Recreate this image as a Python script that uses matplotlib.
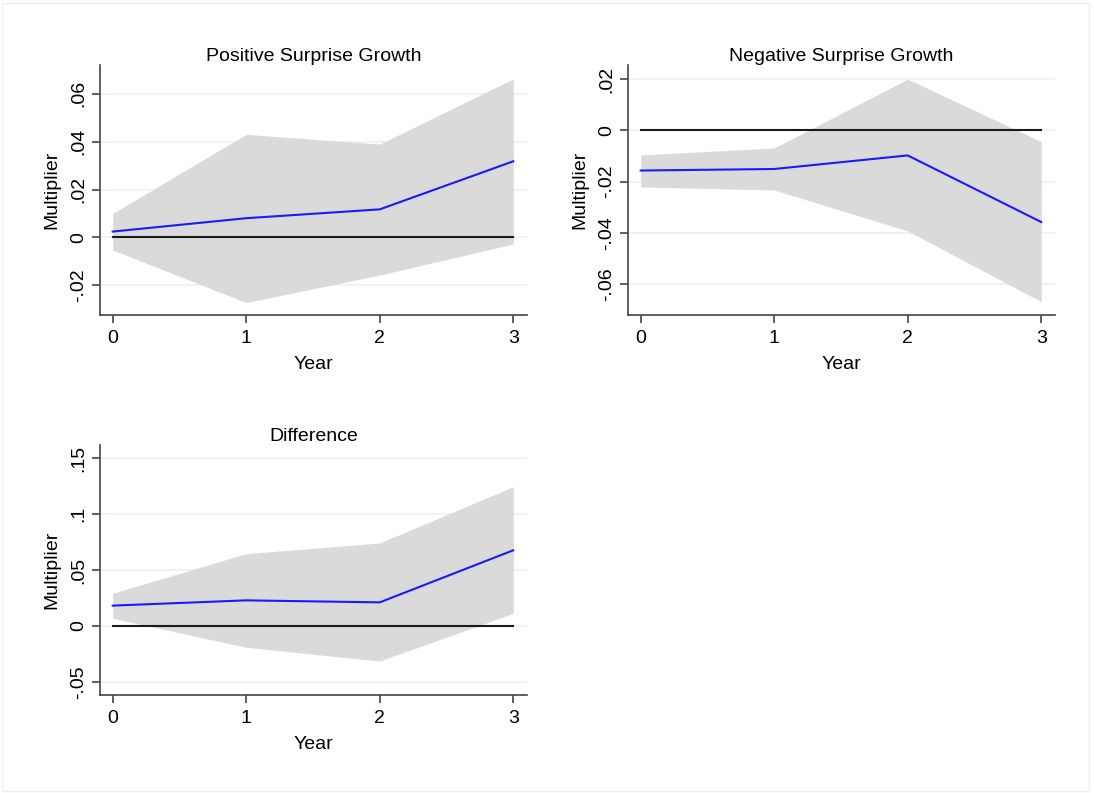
import numpy as np
import matplotlib.pyplot as plt
from matplotlib.patches import Rectangle

plt.rcParams['font.family'] = ['Liberation Sans', 'DejaVu Sans']

# years after the surprise
years = [0, 1, 2, 3]

# Positive surprise growth
pos_coef = [0.0024, 0.0080, 0.0117, 0.0318]
pos_hi = [0.0100, 0.0431, 0.0390, 0.0663]
pos_lo = [-0.0053, -0.0273, -0.0158, -0.0028]

# Negative surprise growth
neg_coef = [-0.0157, -0.0151, -0.0098, -0.0358]
neg_hi = [-0.0096, -0.0069, 0.0200, -0.0044]
neg_lo = [-0.0221, -0.0233, -0.0393, -0.0669]

# Difference
dif_coef = [0.0182, 0.0229, 0.0211, 0.0676]
dif_hi = [0.0292, 0.0646, 0.0741, 0.1244]
dif_lo = [0.0068, -0.0190, -0.0313, 0.0113]

pos_ticks = [-0.02, 0, 0.02, 0.04, 0.06]
pos_labels = ['-.02', '0', '.02', '.04', '.06']
neg_ticks = [-0.06, -0.04, -0.02, 0, 0.02]
neg_labels = ['-.06', '-.04', '-.02', '0', '.02']
dif_ticks = [-0.05, 0, 0.05, 0.1, 0.15]
dif_labels = ['-.05', '0', '.05', '.1', '.15']

W, H = 1094, 793
fig = plt.figure(figsize=(W / 100, H / 100), dpi=100)
fig.patches.append(Rectangle((2 / W, 2 / H), 1087 / W, 788 / H, transform=fig.transFigure,
                             fill=False, edgecolor='#efefef', linewidth=1))


def panel(left, top, title, coef, hi, lo, ticks, labels, ylim):
    ax = fig.add_axes([left / W, 1 - (top + 250) / H, 427 / W, 250 / H])
    ax.fill_between(years, lo, hi, color='#dadada', linewidth=0, zorder=1)
    ax.plot(years, [0] * len(years), color='#1a1a1a', linewidth=1.5, zorder=2)
    ax.plot(years, coef, color='#1a1aff', linewidth=1.5, zorder=3)
    ax.set_xlim(-0.095, 3.103)
    ax.set_ylim(*ylim)
    ax.set_xticks(years)
    ax.set_yticks(ticks)
    ax.set_yticklabels(labels, rotation=90, va='center')
    ax.grid(axis='y', color='#eaf2f3', linewidth=1.2, zorder=0)
    ax.set_axisbelow(True)
    for s in ['top', 'right']:
        ax.spines[s].set_visible(False)
    for s in ['left', 'bottom']:
        ax.spines[s].set_color('#444444')
        ax.spines[s].set_linewidth(1.2)
    ax.tick_params(direction='out', length=6, width=1.2, color='#444444',
                   labelsize=14, pad=3)
    ax.tick_params(axis='x', pad=5)
    ax.set_title(title, fontsize=14, pad=3)
    ax.set_xlabel('Year', fontsize=14, labelpad=6)
    ax.set_ylabel('Multiplier', fontsize=14, labelpad=7)
    return ax


panel(100, 65, 'Positive Surprise Growth', pos_coef, pos_hi, pos_lo,
      pos_ticks, pos_labels, (-0.0325, 0.0721))
panel(628, 65, 'Negative Surprise Growth', neg_coef, neg_hi, neg_lo,
      neg_ticks, neg_labels, (-0.0721, 0.0255))
panel(100, 445, 'Difference', dif_coef, dif_hi, dif_lo,
      dif_ticks, dif_labels, (-0.0616, 0.1616))

fig.savefig('out.png', dpi=100)
